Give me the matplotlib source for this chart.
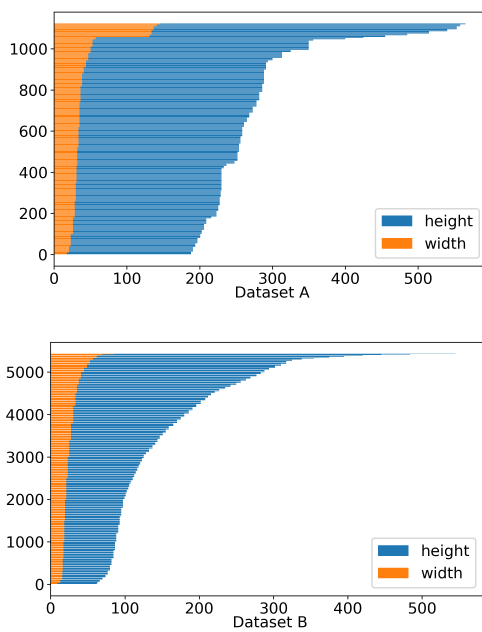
import numpy as np
import matplotlib
matplotlib.use("Agg")
import matplotlib.pyplot as plt

# Sorted box sizes per dataset, stored run-length style: value, number of boxes
a_height_vals = [188, 191, 194, 197, 201, 203, 206, 209, 216, 223, 225.5, 227.5, 229, 230,
                 233, 237, 248, 252, 254, 256, 258.5, 261, 265, 268, 273, 278, 282, 286,
                 288.5, 291, 294, 300, 313, 325, 350, 356, 400, 425, 455, 485, 515, 540,
                 553, 558, 565]
a_height_counts = [15, 20, 20, 25, 20, 20, 30, 25, 10, 25, 30, 40, 30, 110,
                   12, 10, 13, 45, 40, 35, 45, 25, 20, 25, 30, 30, 40, 40,
                   70, 35, 10, 10, 30, 10, 45, 6, 6, 6, 8, 9, 10, 10,
                   15, 8, 5]
a_width_vals = [17.5, 20.5, 23, 26, 28.5, 30, 31, 32, 33.5, 35, 36.5, 38.5, 41, 44,
                47, 50, 53, 57, 131, 134, 137, 141, 146]
a_width_counts = [10, 30, 60, 80, 80, 90, 80, 90, 100, 120, 80, 60, 30, 35,
                  35, 30, 35, 11, 14, 20, 20, 8, 5]

b_height_vals = [62, 63, 66, 70, 74, 77, 80, 82, 84.5, 86.5, 88.5, 91, 93, 95, 97.5,
                 99.5, 101, 102.5, 104.5, 106, 108, 110.5, 112.5, 114.5, 116.5, 118.5,
                 120.5, 123, 125.5, 128.5, 132.5, 137, 141, 144, 147, 151, 155, 159,
                 165, 170, 175, 180, 186, 191, 196, 202, 208,
                 212, 216, 221, 227, 235, 242, 250, 256, 263, 269, 277, 283, 288, 294,
                 302, 310,
                 317, 325, 338, 355, 375, 395, 420, 445, 484, 545]
b_height_counts = ([20, 40, 40, 50, 70, 100, 130, 150, 200, 200, 200, 200, 200, 200, 200]
                   + [75] * 32 + [50] * 16
                   + [60, 40, 20, 20, 20, 20, 20, 15, 10, 7])
b_width_vals = [9, 13, 15.5, 16.5, 17.3, 18.3, 19.3, 21, 23, 25, 27.5, 30.5, 33.5,
                35.5, 38, 41, 45, 49, 53, 57, 62, 70, 85]
b_width_counts = [30, 70, 200, 300, 400, 500, 500, 500, 500, 400, 400, 400, 300,
                  200, 150, 150, 100, 100, 80, 60, 50, 30, 12]

datasets = ["Dataset A", "Dataset B"]

W, H = 482, 632
SS = 4  # supersampling factor, thin bars get averaged down afterwards


def expand(vals, counts):
    return np.repeat(np.array(vals, dtype=float), counts)


def draw_sizes(ax, heights, widths, name, xmax, legend_anchor):
    idx = np.arange(len(heights))
    ax.barh(idx, heights, label="height", linewidth=0)
    ax.barh(idx, widths, label="width", linewidth=0)
    ax.set_xlim(0, xmax)
    ax.set_xlabel(name, labelpad=-0.7)
    ax.tick_params(length=2.5, width=0.6, pad=2)
    ax.legend(loc="lower right", bbox_to_anchor=legend_anchor, borderaxespad=0)


def main():
    plt.rcParams["font.size"] = 11
    plt.rcParams["axes.linewidth"] = 0.6
    fig = plt.figure(figsize=(W / 100, H / 100), dpi=100 * SS)

    ax_a = fig.add_axes([0.112, 0.579, 0.905, 0.402])
    draw_sizes(ax_a, expand(a_height_vals, a_height_counts),
               expand(a_width_vals, a_width_counts),
               datasets[0], 599, (0.975, 0.0315))

    ax_b = fig.add_axes([0.105, 0.0574, 0.911, 0.401])
    draw_sizes(ax_b, expand(b_height_vals, b_height_counts),
               expand(b_width_vals, b_width_counts),
               datasets[1], 591, (0.968, 0.0316))

    fig.canvas.draw()
    img = np.asarray(fig.canvas.buffer_rgba(), dtype=float)[:H * SS, :W * SS, :3] / 255.0
    plt.close(fig)
    small = img.reshape(H, SS, W, SS, 3).mean(axis=(1, 3))
    plt.imsave("out.png", np.clip(small, 0, 1))


main()
